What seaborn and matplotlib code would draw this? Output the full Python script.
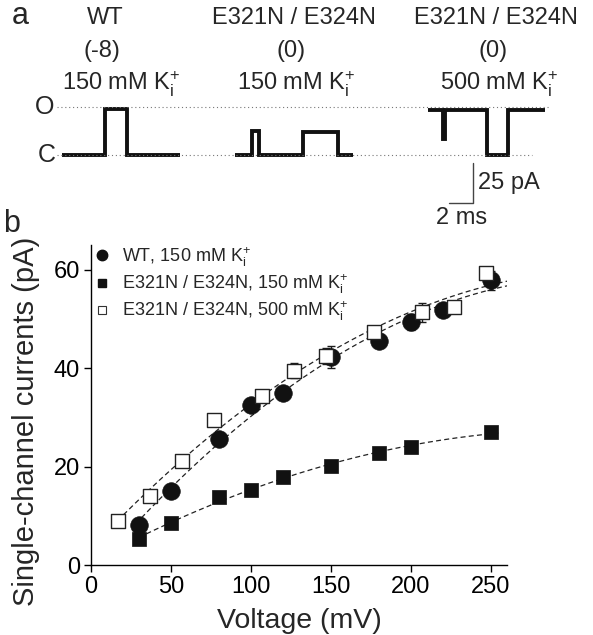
import numpy as np
import pandas as pd
import seaborn as sns
import matplotlib.pyplot as plt
from matplotlib.lines import Line2D

sns.set_theme(style="ticks")
plt.rcParams["font.family"] = ["Liberation Sans", "DejaVu Sans"]
plt.rcParams["mathtext.fontset"] = "custom"
plt.rcParams["mathtext.rm"] = "Liberation Sans"
plt.rcParams["mathtext.it"] = "Liberation Sans:italic"

# ---- panel a: idealized single-channel records (ms, pA) ----
trace_titles = ["WT", "E321N / E324N", "E321N / E324N"]
trace_shift = ["(-8)", "(0)", "(0)"]
trace_k = ["150", "150", "500"]
wt_t = [5.2, 8.75, 10.6, 15.0]
wt_lvl = [0, 29, 0]
dm150_t = [19.6, 21.0, 21.6, 25.25, 28.2, 29.4]
dm150_lvl = [0, 15, 0, 14.4, 0]
dm500_t = [35.7, 36.9, 37.1, 40.6, 42.3, 45.4]
dm500_lvl = [28, 10, 28, 0, 28]
open_level = 30
closed_level = 0

# ---- panel b: I-V data ----
wt_v = [30, 50, 80, 100, 120, 150, 180, 200, 220, 250]
wt_i = [8.2, 15.1, 25.5, 32.6, 35.0, 42.2, 45.6, 49.4, 51.7, 57.8]
wt_err = [0.5, 0.6, 1.1, 0.8, 0.7, 2.2, 0.8, 1.6, 0.8, 2.0]

m150_v = [30, 50, 80, 100, 120, 150, 180, 200, 250]
m150_i = [5.2, 8.5, 13.8, 15.3, 17.9, 20.1, 22.7, 24.0, 27.0]

m500_v = [17, 37, 57, 77, 107, 127, 147, 177, 207, 227, 247]
m500_i = [9.0, 14.0, 21.2, 29.5, 34.4, 39.5, 42.5, 47.4, 51.3, 52.5, 59.3]
m500_err = [0.3, 0.4, 0.5, 0.6, 0.6, 1.5, 1.6, 0.8, 2.0, 0.6, 0.8]

legend_labels = [r"WT, 150 mM K$^{+}_{\mathrm{i}}$",
                 r"E321N / E324N, 150 mM K$^{+}_{\mathrm{i}}$",
                 r"E321N / E324N, 500 mM K$^{+}_{\mathrm{i}}$"]

W, H = 593, 635
fig = plt.figure(figsize=(W / 100, H / 100), dpi=100)


def fx(px):
    return px / W


def fy(py):
    return 1 - py / H


# panel a
ax_a = fig.add_axes([0, fy(235), 1, 235 / H])
ax_a.axis("off")
ax_a.set_xlim(0, W / 12)
ax_a.set_ylim(-(235 - 155) / 1.6, 155 / 1.6)

ax_a.hlines([open_level, closed_level], [4.75, 4.75], [45.8, 44.3],
            colors="#777777", linestyles=(0, (1, 2.5)), lw=0.8)
for t, lvl in [(wt_t, wt_lvl), (dm150_t, dm150_lvl), (dm500_t, dm500_lvl)]:
    ax_a.stairs(lvl, t, baseline=None, color="#111111", lw=2.8)
ax_a.text(3.75, open_level, "O", fontsize=18, ha="center", va="center")
ax_a.text(3.9, closed_level, "C", fontsize=18, ha="center", va="center")

# scale bar
ax_a.plot([37.4, 39.4, 39.4], [-30, -30, -5], color="#444444", lw=1)
ax_a.text(39.8, -17.5, "25 pA", fontsize=17, ha="left", va="center")
ax_a.text(38.5, -39.5, "2 ms", fontsize=17, ha="center", va="center")

title_x = [105, 294, 496]
k_x = [121, 296, 499]
for i in range(3):
    fig.text(fx(title_x[i]), fy(18), trace_titles[i], fontsize=17, ha="center", va="center")
    fig.text(fx(title_x[i] - 3), fy(51), trace_shift[i], fontsize=17, ha="center", va="center")
    fig.text(fx(k_x[i]), fy(84), trace_k[i] + r" mM K$^{+}_{\mathrm{i}}$",
             fontsize=17, ha="center", va="center")

fig.text(fx(20), fy(16), "a", fontsize=22, ha="center", va="center")
fig.text(fx(12), fy(224), "b", fontsize=22, ha="center", va="center")

# panel b
ax = fig.add_axes([fx(91), fy(565), (507 - 91) / W, (565 - 245) / H])

for v, i, lo, hi in [(wt_v, wt_i, 28, 260), (m500_v, m500_i, 13, 260), (m150_v, m150_i, 30, 255)]:
    coef = np.polyfit(v, i, 2)
    xs = np.linspace(lo, hi, 200)
    ax.plot(xs, np.polyval(coef, xs), color="#222222", lw=0.9,
            linestyle=(0, (4, 2.6)), zorder=1)

ax.errorbar(wt_v, wt_i, yerr=wt_err, fmt="none", ecolor="k", elinewidth=1, capsize=3, zorder=2)
ax.errorbar(m500_v, m500_i, yerr=m500_err, fmt="none", ecolor="k", elinewidth=1, capsize=3, zorder=2)

sns.scatterplot(x=wt_v, y=wt_i, marker="o", s=160, color="#111111", edgecolor="#111111",
                linewidth=0.5, ax=ax, zorder=3, legend=False)
sns.scatterplot(x=m150_v, y=m150_i, marker="s", s=115, color="#111111", edgecolor="#111111",
                linewidth=0.5, ax=ax, zorder=3, legend=False)
sns.scatterplot(x=m500_v, y=m500_i, marker="s", s=115, color="white", edgecolor="#222222",
                linewidth=1.0, ax=ax, zorder=4, legend=False)

ax.set_xlim(0, 260)
ax.set_ylim(0, 65)
ax.set_xticks([0, 50, 100, 150, 200, 250])
ax.set_yticks([0, 20, 40, 60])
sns.despine(ax=ax)
for s in ["left", "bottom"]:
    ax.spines[s].set_linewidth(1)
    ax.spines[s].set_color("black")
ax.tick_params(direction="out", length=5, width=1, labelsize=17, colors="black", pad=3)

ax.set_xlabel("Voltage (mV)", fontsize=20.5)
ax.set_ylabel("Single-channel currents (pA)", fontsize=21)
ax.xaxis.set_label_coords(0.5, (565 - 621) / 320)
ax.xaxis.label.set_va("center")
ax.yaxis.set_label_coords((26 - 91) / 416, (565 - 421) / 320)
ax.yaxis.label.set_va("center")

handles = [
    Line2D([], [], marker="o", ls="none", ms=7.5, mfc="#111111", mec="#111111"),
    Line2D([], [], marker="s", ls="none", ms=5.5, mfc="#111111", mec="#111111"),
    Line2D([], [], marker="s", ls="none", ms=5.5, mfc="white", mec="#333333", mew=0.8),
]
ax.legend(handles, legend_labels, loc="upper left", bbox_to_anchor=(fx(97), fy(245)),
          bbox_transform=fig.transFigure, frameon=False, fontsize=13,
          handlelength=0.6, handletextpad=0.8, borderpad=0, borderaxespad=0,
          labelspacing=0.2)

fig.savefig("out.png", dpi=100)
